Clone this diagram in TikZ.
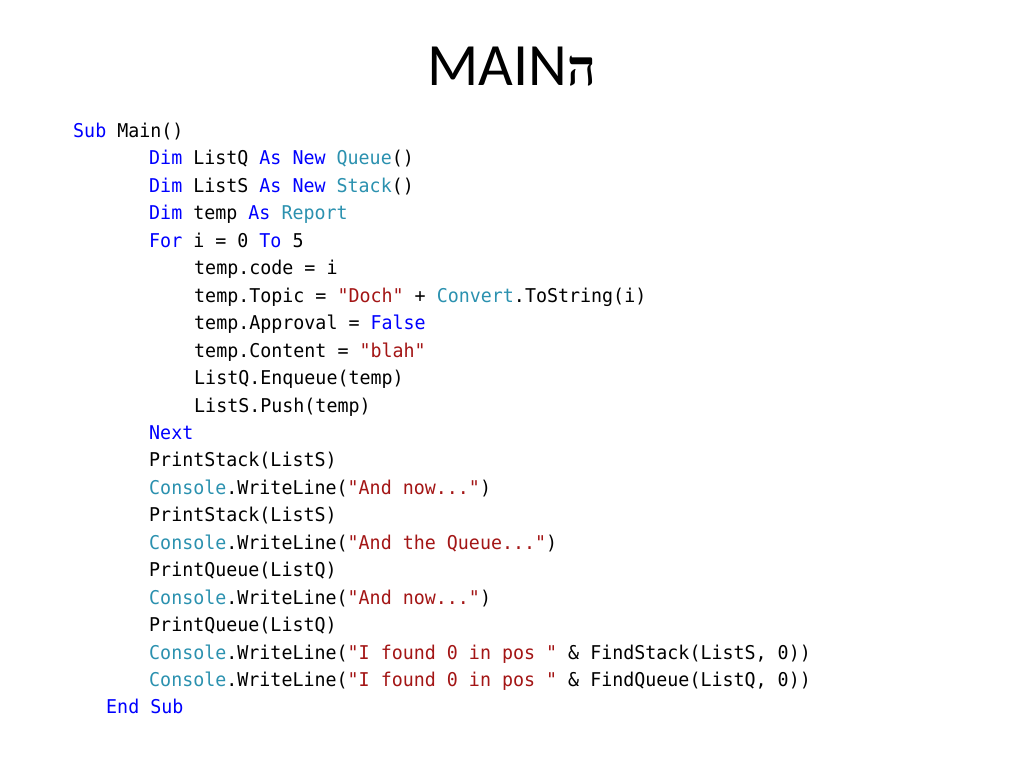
\documentclass[tikz,border=0pt]{standalone}
\usepackage{fontspec}
\setmainfont{Carlito}
\setmonofont[FakeStretch=0.964]{DejaVu Sans Mono}
\newfontfamily\hebfont[Script=Hebrew]{Liberation Serif}
\TeXXeTstate=1
\definecolor{vbblue}{HTML}{0000FF}
\definecolor{vbteal}{HTML}{2B91AF}
\definecolor{vbred}{HTML}{A31515}
\newcommand{\kwd}[1]{\textcolor{vbblue}{#1}}
\newcommand{\typ}[1]{\textcolor{vbteal}{#1}}
\newcommand{\strg}[1]{\textcolor{vbred}{#1}}
\tikzset{
  codeline/.style={anchor=base west, inner sep=0pt, font=\ttfamily\fontsize{19}{19}\selectfont},
  slidetitle/.style={anchor=base, inner sep=0pt, font=\fontsize{60}{60}\selectfont}
}

\begin{document}
\begin{tikzpicture}[x=1pt,y=-1pt]
\useasboundingbox (0,0) rectangle (1024,768);
\node[slidetitle] (title) at (512,85) {MAIN{\hebfont\bfseries\fontsize{50}{50}\selectfont\beginR ה\endR}};
\node[codeline] (l1) at (73,137.5) {\kwd{Sub} Main()};
\node[codeline] (l2) at (149,164.95) {\kwd{Dim} ListQ \kwd{As} \kwd{New} \typ{Queue}()};
\node[codeline] (l3) at (149,192.4) {\kwd{Dim} ListS \kwd{As} \kwd{New} \typ{Stack}()};
\node[codeline] (l4) at (149,219.85) {\kwd{Dim} temp \kwd{As} \typ{Report}};
\node[codeline] (l5) at (149,247.3) {\kwd{For} i = 0 \kwd{To} 5};
\node[codeline] (l6) at (194,274.75) {temp.code = i};
\node[codeline] (l7) at (194,302.2) {temp.Topic = \strg{"Doch"} + \typ{Convert}.ToString(i)};
\node[codeline] (l8) at (194,329.65) {temp.Approval = \kwd{False}};
\node[codeline] (l9) at (194,357.1) {temp.Content = \strg{"blah"}};
\node[codeline] (l10) at (194,384.55) {ListQ.Enqueue(temp)};
\node[codeline] (l11) at (194,412) {ListS.Push(temp)};
\node[codeline] (l12) at (149,439.45) {\kwd{Next}};
\node[codeline] (l13) at (149,466.9) {PrintStack(ListS)};
\node[codeline] (l14) at (149,494.35) {\typ{Console}.WriteLine(\strg{"And now..."})};
\node[codeline] (l15) at (149,521.8) {PrintStack(ListS)};
\node[codeline] (l16) at (149,549.25) {\typ{Console}.WriteLine(\strg{"And the Queue..."})};
\node[codeline] (l17) at (149,576.7) {PrintQueue(ListQ)};
\node[codeline] (l18) at (149,604.15) {\typ{Console}.WriteLine(\strg{"And now..."})};
\node[codeline] (l19) at (149,631.6) {PrintQueue(ListQ)};
\node[codeline] (l20) at (149,659.05) {\typ{Console}.WriteLine(\strg{"I found 0 in pos "} \& FindStack(ListS, 0))};
\node[codeline] (l21) at (149,686.5) {\typ{Console}.WriteLine(\strg{"I found 0 in pos "} \& FindQueue(ListQ, 0))};
\node[codeline] (l22) at (106,713.95) {\kwd{End} \kwd{Sub}};
\end{tikzpicture}
\end{document}
